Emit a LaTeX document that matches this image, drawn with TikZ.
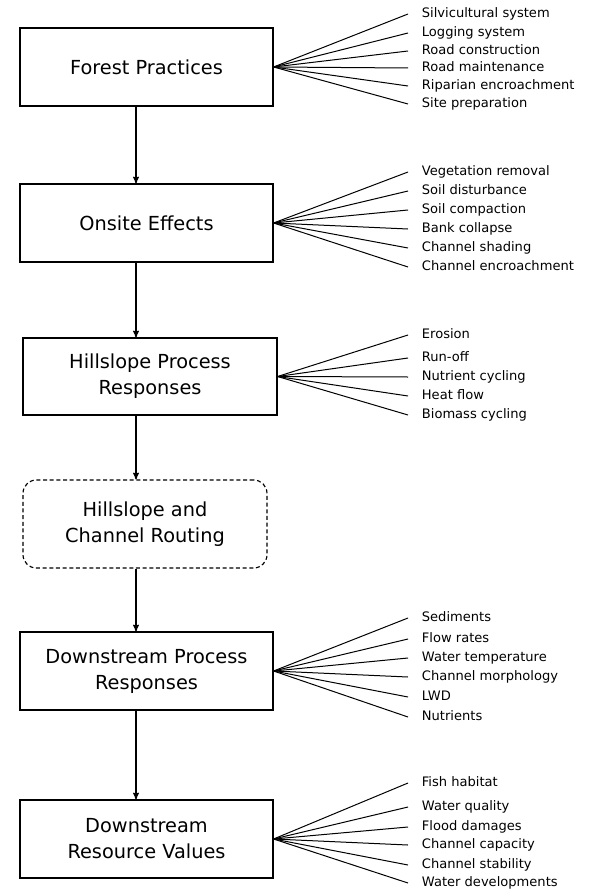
\documentclass[tikz,border=0pt]{standalone}
\usepackage{fontspec}
\setmainfont{DejaVu Sans}
\usetikzlibrary{arrows}

\begin{document}
\begin{tikzpicture}[->,line width=0.85pt,>=stealth',x=0.75pt,y=-0.75pt]
    \tikzstyle{box}=[draw=black, rectangle, minimum width=189.75pt, minimum height=58.5pt, align=center, text=black, font=\fontsize{14.5}{19.5}\selectfont]
    \tikzstyle{route}=[style=box, dashed, dash pattern=on 3pt off 2pt, rounded corners=10pt, minimum width=183pt, minimum height=66pt]
    \tikzstyle{item}=[anchor=west, inner xsep=10pt, inner ysep=0pt, text height=7.5pt, text depth=2pt, font=\fontsize{9.8}{11}\selectfont]
    \tikzstyle{fan}=[-, line width=0.75pt]

    \useasboundingbox (0,0) rectangle (593,895);

    \node[box] (fp) at (146.5,67)    {Forest Practices};
    \node[box] (oe) at (146.5,223)   {Onsite Effects};
    \node[box, minimum width=190.5pt, minimum height=57.75pt] (hp) at (150,376.5) {Hillslope Process\\Responses};
    \node[route] (rt) at (145,524)   {Hillslope and\\Channel Routing};
    \node[box] (dp) at (146.5,671)   {Downstream Process\\Responses};
    \node[box] (dr) at (146.5,839)   {Downstream\\Resource Values};
    \coordinate (spine) at (136,0);

    % forest practices
    \node[item] (fp1) at (408,14)  {Silvicultural system};
    \node[item] (fp2) at (408,33)  {Logging system};
    \node[item] (fp3) at (408,51)  {Road construction};
    \node[item] (fp4) at (408,68)  {Road maintenance};
    \node[item] (fp5) at (408,86)  {Riparian encroachment};
    \node[item] (fp6) at (408,104) {Site preparation};

    % onsite effects
    \node[item] (oe1) at (408,172) {Vegetation removal};
    \node[item] (oe2) at (408,191) {Soil disturbance};
    \node[item] (oe3) at (408,210) {Soil compaction};
    \node[item] (oe4) at (408,229) {Bank collapse};
    \node[item] (oe5) at (408,248) {Channel shading};
    \node[item] (oe6) at (408,267) {Channel encroachment};

    % hillslope responses
    \node[item] (hp1) at (408,335) {Erosion};
    \node[item] (hp2) at (408,358) {Run-off};
    \node[item] (hp3) at (408,377) {Nutrient cycling};
    \node[item] (hp4) at (408,396) {Heat flow};
    \node[item] (hp5) at (408,415) {Biomass cycling};

    % downstream responses
    \node[item] (dp1) at (408,618) {Sediments};
    \node[item] (dp2) at (408,639) {Flow rates};
    \node[item] (dp3) at (408,658) {Water temperature};
    \node[item] (dp4) at (408,677) {Channel morphology};
    \node[item] (dp5) at (408,697) {LWD};
    \node[item] (dp6) at (408,717) {Nutrients};

    % resource values
    \node[item] (dr1) at (408,783) {Fish habitat};
    \node[item] (dr2) at (408,807) {Water quality};
    \node[item] (dr3) at (408,827) {Flood damages};
    \node[item] (dr4) at (408,845) {Channel capacity};
    \node[item] (dr5) at (408,865) {Channel stability};
    \node[item] (dr6) at (408,883) {Water developments};

    \path
     (fp.south -| spine) edge[] (oe.north -| spine)
     (oe.south -| spine) edge[] (hp.north -| spine)
     (hp.south -| spine) edge[] (rt.north -| spine)
     (rt.south -| spine) edge[] (dp.north -| spine)
     (dp.south -| spine) edge[] (dr.north -| spine)
     ;
    \path
     (fp.east) edge[fan] (fp1.west) edge[fan] (fp2.west) edge[fan] (fp3.west)
               edge[fan] (fp4.west) edge[fan] (fp5.west) edge[fan] (fp6.west)
     (oe.east) edge[fan] (oe1.west) edge[fan] (oe2.west) edge[fan] (oe3.west)
               edge[fan] (oe4.west) edge[fan] (oe5.west) edge[fan] (oe6.west)
     (hp.east) edge[fan] (hp1.west) edge[fan] (hp2.west) edge[fan] (hp3.west)
               edge[fan] (hp4.west) edge[fan] (hp5.west)
     (dp.east) edge[fan] (dp1.west) edge[fan] (dp2.west) edge[fan] (dp3.west)
               edge[fan] (dp4.west) edge[fan] (dp5.west) edge[fan] (dp6.west)
     (dr.east) edge[fan] (dr1.west) edge[fan] (dr2.west) edge[fan] (dr3.west)
               edge[fan] (dr4.west) edge[fan] (dr5.west) edge[fan] (dr6.west)
     ;
\end{tikzpicture}
\end{document}
